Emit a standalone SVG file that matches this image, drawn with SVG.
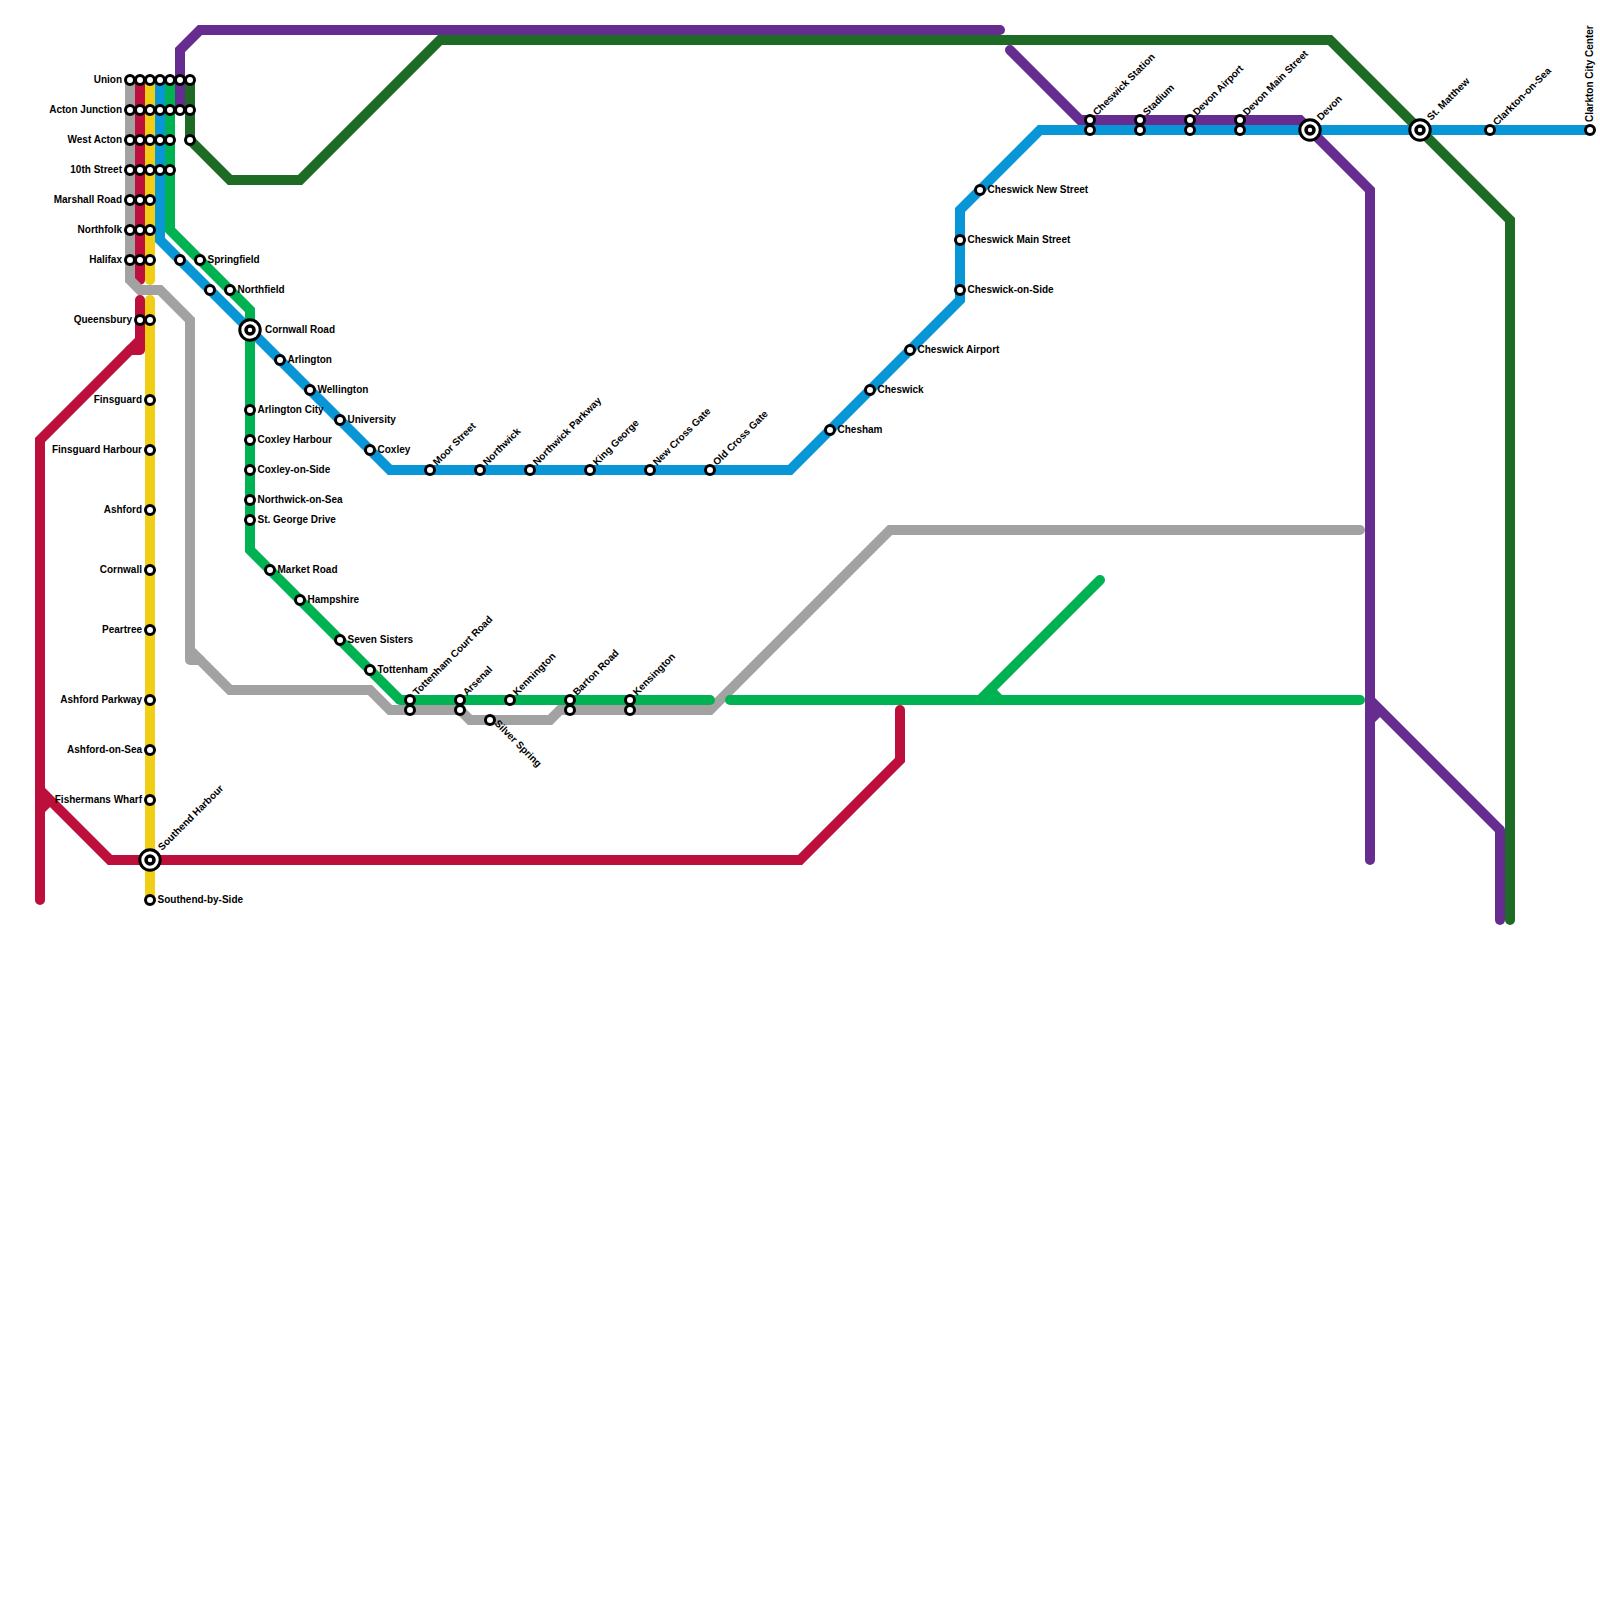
<svg xmlns="http://www.w3.org/2000/svg" width="1600" height="1600" viewBox="0 0 1600 1600">
<style>
.l{fill:none;stroke-width:10;stroke-linejoin:miter;stroke-linecap:butt}
.r{stroke-linecap:round}
.j{stroke-linejoin:round}
.red{stroke:#bd0f3c}.gray{stroke:#a2a2a2}.yel{stroke:#f0ce15}.blu{stroke:#0896d7}.grn{stroke:#00b251}.pur{stroke:#662c90}.dg{stroke:#1e6b26}
.s{fill:#fff;stroke:#000;stroke-width:3}
.i{fill:#fff;stroke:#000;stroke-width:3}
.c{fill:#fff;stroke:#000;stroke-width:3.5}
text{font-family:"Liberation Sans",Arial,sans-serif;font-size:10px;font-weight:700;fill:#000}
.e{text-anchor:end}
</style>
<rect width="1600" height="1600" fill="#fff"/>
<g id="connectors">
<path class="l red r" d="M140 80V280"/>
<path class="l red r j" d="M140 300V350H130"/>
<path class="l red r" d="M140 340L40 440V900"/>
<path class="l red" d="M40 810L50 800"/>
<path class="l red r" d="M900 710V760L800 860H110L40 790"/>
<path class="l gray" d="M130 80V280L140 290H160L190 320V650"/>
<path class="l gray r j" d="M190 640V660H200"/>
<path class="l gray r" d="M190 650L230 690H370L390 710H460L470 720H550L560 710H710L890 530H1360"/>
<path class="l yel r" d="M150 80V280"/>
<path class="l yel r" d="M150 300V900"/>
<path class="l grn" d="M170 80V230L250 310V550L400 700"/>
<path class="l grn r" d="M400 700H710"/>
<path class="l grn r" d="M730 700H1360"/>
<path class="l grn r" d="M1100 580L980 700"/>
<path class="l grn" d="M990 690L1000 700"/>
<path class="l blu" d="M160 80V240L390 470H790L960 300V210L1040 130H1590"/>
<path class="l pur r" d="M180 110V50L200 30H1000"/>
<path class="l pur r" d="M1010 50L1080 120H1300L1370 190V860"/>
<path class="l pur" d="M1370 720L1380 710"/>
<path class="l pur" d="M1370 700L1500 830"/>
<path class="l pur r" d="M1500 830V920"/>
<path class="l dg r" d="M190 80V140L230 180H300L440 40H1330L1510 220V920"/>
</g>
<g id="n-union"><circle class="s" cx="130" cy="80" r="4.5"/><circle class="s" cx="140" cy="80" r="4.5"/><circle class="s" cx="150" cy="80" r="4.5"/><circle class="s" cx="160" cy="80" r="4.5"/><circle class="s" cx="170" cy="80" r="4.5"/><circle class="s" cx="180" cy="80" r="4.5"/><circle class="s" cx="190" cy="80" r="4.5"/><text class="e" x="122" y="82.500">Union</text></g>
<g id="n-acton-junction"><circle class="s" cx="130" cy="110" r="4.5"/><circle class="s" cx="140" cy="110" r="4.5"/><circle class="s" cx="150" cy="110" r="4.5"/><circle class="s" cx="160" cy="110" r="4.5"/><circle class="s" cx="170" cy="110" r="4.5"/><circle class="s" cx="180" cy="110" r="4.5"/><circle class="s" cx="190" cy="110" r="4.5"/><text class="e" x="122" y="112.500">Acton Junction</text></g>
<g id="n-west-acton"><circle class="s" cx="130" cy="140" r="4.5"/><circle class="s" cx="140" cy="140" r="4.5"/><circle class="s" cx="150" cy="140" r="4.5"/><circle class="s" cx="160" cy="140" r="4.5"/><circle class="s" cx="170" cy="140" r="4.5"/><circle class="s" cx="190" cy="140" r="4.5"/><text class="e" x="122" y="142.500">West Acton</text></g>
<g id="n-10th-street"><circle class="s" cx="130" cy="170" r="4.5"/><circle class="s" cx="140" cy="170" r="4.5"/><circle class="s" cx="150" cy="170" r="4.5"/><circle class="s" cx="160" cy="170" r="4.5"/><circle class="s" cx="170" cy="170" r="4.5"/><text class="e" x="122" y="172.500">10th Street</text></g>
<g id="n-marshall-road"><circle class="s" cx="130" cy="200" r="4.5"/><circle class="s" cx="140" cy="200" r="4.5"/><circle class="s" cx="150" cy="200" r="4.5"/><text class="e" x="122" y="202.500">Marshall Road</text></g>
<g id="n-northfolk"><circle class="s" cx="130" cy="230" r="4.5"/><circle class="s" cx="140" cy="230" r="4.5"/><circle class="s" cx="150" cy="230" r="4.5"/><text class="e" x="122" y="232.500">Northfolk</text></g>
<g id="n-halifax"><circle class="s" cx="130" cy="260" r="4.5"/><circle class="s" cx="140" cy="260" r="4.5"/><circle class="s" cx="150" cy="260" r="4.5"/><text class="e" x="122" y="262.500">Halifax</text></g>
<g id="n-blue-a"><circle class="s" cx="180" cy="260" r="4.5"/></g>
<g id="n-blue-b"><circle class="s" cx="210" cy="290" r="4.5"/></g>
<g id="n-springfield"><circle class="s" cx="200" cy="260" r="4.5"/><text x="207.500" y="262.500">Springfield</text></g>
<g id="n-northfield"><circle class="s" cx="230" cy="290" r="4.5"/><text x="237.500" y="292.500">Northfield</text></g>
<g id="n-cornwall-road"><circle cx="250" cy="330" r="10.200" class="i"/><circle class="c" cx="250" cy="330" r="4"/><text x="265" y="332.500">Cornwall Road</text></g>
<g id="n-queensbury"><circle class="s" cx="140" cy="320" r="4.5"/><circle class="s" cx="150" cy="320" r="4.5"/><text class="e" x="132" y="322.500">Queensbury</text></g>
<g id="n-finsguard"><circle class="s" cx="150" cy="400" r="4.5"/><text class="e" x="142" y="402.500">Finsguard</text></g>
<g id="n-finsguard-harbour"><circle class="s" cx="150" cy="450" r="4.5"/><text class="e" x="142" y="452.500">Finsguard Harbour</text></g>
<g id="n-ashford"><circle class="s" cx="150" cy="510" r="4.5"/><text class="e" x="142" y="512.500">Ashford</text></g>
<g id="n-cornwall"><circle class="s" cx="150" cy="570" r="4.5"/><text class="e" x="142" y="572.500">Cornwall</text></g>
<g id="n-peartree"><circle class="s" cx="150" cy="630" r="4.5"/><text class="e" x="142" y="632.500">Peartree</text></g>
<g id="n-ashford-parkway"><circle class="s" cx="150" cy="700" r="4.5"/><text class="e" x="142" y="702.500">Ashford Parkway</text></g>
<g id="n-ashford-on-sea"><circle class="s" cx="150" cy="750" r="4.5"/><text class="e" x="142" y="752.500">Ashford-on-Sea</text></g>
<g id="n-fishermans-wharf"><circle class="s" cx="150" cy="800" r="4.5"/><text class="e" x="142" y="802.500">Fishermans Wharf</text></g>
<g id="n-southend-harbour"><circle cx="150" cy="860" r="10.200" class="i"/><circle class="c" cx="150" cy="860" r="4"/><text transform="translate(162 851) rotate(-45)">Southend Harbour</text></g>
<g id="n-southend-by-side"><circle class="s" cx="150" cy="900" r="4.5"/><text x="157.500" y="902.500">Southend-by-Side</text></g>
<g id="n-arlington"><circle class="s" cx="280" cy="360" r="4.5"/><text x="287.500" y="362.500">Arlington</text></g>
<g id="n-wellington"><circle class="s" cx="310" cy="390" r="4.5"/><text x="317.500" y="392.500">Wellington</text></g>
<g id="n-university"><circle class="s" cx="340" cy="420" r="4.5"/><text x="347.500" y="422.500">University</text></g>
<g id="n-coxley"><circle class="s" cx="370" cy="450" r="4.5"/><text x="377.500" y="452.500">Coxley</text></g>
<g id="n-arlington-city"><circle class="s" cx="250" cy="410" r="4.5"/><text x="257.500" y="412.500">Arlington City</text></g>
<g id="n-coxley-harbour"><circle class="s" cx="250" cy="440" r="4.5"/><text x="257.500" y="442.500">Coxley Harbour</text></g>
<g id="n-coxley-on-side"><circle class="s" cx="250" cy="470" r="4.5"/><text x="257.500" y="472.500">Coxley-on-Side</text></g>
<g id="n-northwick-on-sea"><circle class="s" cx="250" cy="500" r="4.5"/><text x="257.500" y="502.500">Northwick-on-Sea</text></g>
<g id="n-st-george-drive"><circle class="s" cx="250" cy="520" r="4.5"/><text x="257.500" y="522.500">St. George Drive</text></g>
<g id="n-market-road"><circle class="s" cx="270" cy="570" r="4.5"/><text x="277.500" y="572.500">Market Road</text></g>
<g id="n-hampshire"><circle class="s" cx="300" cy="600" r="4.5"/><text x="307.500" y="602.500">Hampshire</text></g>
<g id="n-seven-sisters"><circle class="s" cx="340" cy="640" r="4.5"/><text x="347.500" y="642.500">Seven Sisters</text></g>
<g id="n-tottenham"><circle class="s" cx="370" cy="670" r="4.5"/><text x="377.500" y="672.500">Tottenham</text></g>
<g id="n-tottenham-court-road"><circle class="s" cx="410" cy="700" r="4.5"/><circle class="s" cx="410" cy="710" r="4.5"/><text transform="translate(417 696) rotate(-45)">Tottenham Court Road</text></g>
<g id="n-arsenal"><circle class="s" cx="460" cy="700" r="4.5"/><circle class="s" cx="460" cy="710" r="4.5"/><text transform="translate(467 696) rotate(-45)">Arsenal</text></g>
<g id="n-kennington"><circle class="s" cx="510" cy="700" r="4.5"/><text transform="translate(517 696) rotate(-45)">Kennington</text></g>
<g id="n-silver-spring"><circle class="s" cx="490" cy="720" r="4.5"/><text transform="translate(494 724) rotate(45)">Silver Spring</text></g>
<g id="n-barton-road"><circle class="s" cx="570" cy="700" r="4.5"/><circle class="s" cx="570" cy="710" r="4.5"/><text transform="translate(577 696) rotate(-45)">Barton Road</text></g>
<g id="n-kensington"><circle class="s" cx="630" cy="700" r="4.5"/><circle class="s" cx="630" cy="710" r="4.5"/><text transform="translate(637 696) rotate(-45)">Kensington</text></g>
<g id="n-moor-street"><circle class="s" cx="430" cy="470" r="4.5"/><text transform="translate(437 466) rotate(-45)">Moor Street</text></g>
<g id="n-northwick"><circle class="s" cx="480" cy="470" r="4.5"/><text transform="translate(487 466) rotate(-45)">Northwick</text></g>
<g id="n-northwick-parkway"><circle class="s" cx="530" cy="470" r="4.5"/><text transform="translate(537 466) rotate(-45)">Northwick Parkway</text></g>
<g id="n-king-george"><circle class="s" cx="590" cy="470" r="4.5"/><text transform="translate(597 466) rotate(-45)">King George</text></g>
<g id="n-new-cross-gate"><circle class="s" cx="650" cy="470" r="4.5"/><text transform="translate(657 466) rotate(-45)">New Cross Gate</text></g>
<g id="n-old-cross-gate"><circle class="s" cx="710" cy="470" r="4.5"/><text transform="translate(717 466) rotate(-45)">Old Cross Gate</text></g>
<g id="n-chesham"><circle class="s" cx="830" cy="430" r="4.5"/><text x="837.500" y="432.500">Chesham</text></g>
<g id="n-cheswick"><circle class="s" cx="870" cy="390" r="4.5"/><text x="877.500" y="392.500">Cheswick</text></g>
<g id="n-cheswick-airport"><circle class="s" cx="910" cy="350" r="4.5"/><text x="917.500" y="352.500">Cheswick Airport</text></g>
<g id="n-cheswick-on-side"><circle class="s" cx="960" cy="290" r="4.5"/><text x="967.500" y="292.500">Cheswick-on-Side</text></g>
<g id="n-cheswick-main-street"><circle class="s" cx="960" cy="240" r="4.5"/><text x="967.500" y="242.500">Cheswick Main Street</text></g>
<g id="n-cheswick-new-street"><circle class="s" cx="980" cy="190" r="4.5"/><text x="987.500" y="192.500">Cheswick New Street</text></g>
<g id="n-cheswick-station"><circle class="s" cx="1090" cy="120" r="4.5"/><circle class="s" cx="1090" cy="130" r="4.5"/><text transform="translate(1097 116) rotate(-45)">Cheswick Station</text></g>
<g id="n-stadium"><circle class="s" cx="1140" cy="120" r="4.5"/><circle class="s" cx="1140" cy="130" r="4.5"/><text transform="translate(1147 116) rotate(-45)">Stadium</text></g>
<g id="n-devon-airport"><circle class="s" cx="1190" cy="120" r="4.5"/><circle class="s" cx="1190" cy="130" r="4.5"/><text transform="translate(1197 116) rotate(-45)">Devon Airport</text></g>
<g id="n-devon-main-street"><circle class="s" cx="1240" cy="120" r="4.5"/><circle class="s" cx="1240" cy="130" r="4.5"/><text transform="translate(1247 116) rotate(-45)">Devon Main Street</text></g>
<g id="n-devon"><circle cx="1310" cy="130" r="10.200" class="i"/><circle class="c" cx="1310" cy="130" r="4"/><text transform="translate(1321 121) rotate(-45)">Devon</text></g>
<g id="n-st-matthew"><circle cx="1420" cy="130" r="10.200" class="i"/><circle class="c" cx="1420" cy="130" r="4"/><text transform="translate(1431 121) rotate(-45)">St. Matthew</text></g>
<g id="n-clarkton-on-sea"><circle class="s" cx="1490" cy="130" r="4.5"/><text transform="translate(1497 126) rotate(-45)">Clarkton-on-Sea</text></g>
<g id="n-clarkton-city-center"><circle class="s" cx="1590" cy="130" r="4.5"/><text transform="translate(1593 122) rotate(-90)">Clarkton City Center</text></g>
</svg>
